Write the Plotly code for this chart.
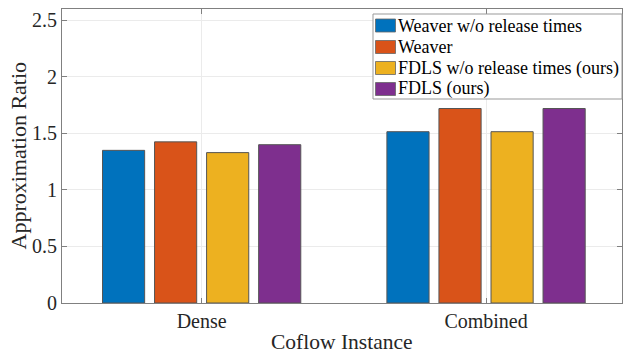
import plotly.graph_objects as go

categories = ["Dense", "Combined"]
series_names = ["Weaver w/o release times", "Weaver", "FDLS w/o release times (ours)", "FDLS (ours)"]
values = {
    "Weaver w/o release times": [1.35, 1.515],
    "Weaver": [1.425, 1.72],
    "FDLS w/o release times (ours)": [1.33, 1.515],
    "FDLS (ours)": [1.40, 1.72],
}
colors = ["#0072BD", "#D95319", "#EDB120", "#7E2F8E"]
y_ticks = [0, 0.5, 1, 1.5, 2, 2.5]
y_tick_labels = ["0", "0.5", "1", "1.5", "2", "2.5"]

ff = "Liberation Serif"
txt = "#262626"

W, H = 624, 356
ML, MR, MT, MB = 62, 2, 9, 53
PW, PH = W - ML - MR, H - MT - MB


def px(x):
    return (x - ML) / PW


def py(y):
    return (H - MB - y) / PH


fig = go.Figure()
for name, col in zip(series_names, colors):
    fig.add_trace(go.Bar(
        x=[1, 2], y=values[name], name=name, showlegend=False,
        marker=dict(color=col, line=dict(color="#555555", width=1)),
    ))

# manual legend (layout decoration)
shapes = [dict(type="rect", xref="paper", yref="paper",
               x0=px(373), x1=px(622), y0=py(99), y1=py(14),
               fillcolor="white", line=dict(color="#999999", width=1), layer="above")]
annotations = []
row_y = [25.5, 47, 68, 89]
for name, col, ry in zip(series_names, colors, row_y):
    shapes.append(dict(type="rect", xref="paper", yref="paper",
                       x0=px(375.5), x1=px(395.5), y0=py(ry + 6.5), y1=py(ry - 6.5),
                       fillcolor=col, line=dict(color="#666666", width=0.8), layer="above"))
    annotations.append(dict(text=name, xref="paper", yref="paper", x=px(395.5), y=py(ry),
                            xanchor="left", yanchor="middle", showarrow=False,
                            font=dict(family=ff, size=18, color="#000000")))

annotations += [
    dict(text="Coflow Instance", xref="paper", yref="paper", x=0.5, y=0,
         xanchor="center", yanchor="middle", yshift=-39, showarrow=False,
         font=dict(family=ff, size=21.5, color=txt)),
    dict(text="Approximation Ratio", xref="paper", yref="paper", x=0, y=0.5,
         xanchor="center", yanchor="middle", xshift=-44.5, textangle=-90, showarrow=False,
         font=dict(family=ff, size=22, color=txt)),
]

fig.update_layout(
    width=W, height=H,
    margin=dict(l=ML, r=MR, t=MT, b=MB, autoexpand=False),
    paper_bgcolor="white", plot_bgcolor="white",
    barmode="group", bargap=0.268, bargroupgap=0.19,
    font=dict(family=ff, color=txt, size=20),
    showlegend=False,
    shapes=shapes,
    annotations=annotations,
)
fig.update_xaxes(
    range=[0.509, 2.478],
    tickvals=[1, 2], ticktext=categories,
    ticks="inside", ticklen=5, tickcolor="#808080",
    showline=True, linecolor="#808080", linewidth=1, mirror="ticks",
    showgrid=True, gridcolor="#ebebeb", gridwidth=1,
    tickfont=dict(family=ff, size=20, color=txt),
    automargin=False, zeroline=False,
)
fig.update_yaxes(
    range=[0, 2.6],
    tickvals=y_ticks, ticktext=y_tick_labels,
    ticks="inside", ticklen=5, tickcolor="#808080",
    showline=True, linecolor="#808080", linewidth=1, mirror="ticks",
    showgrid=True, gridcolor="#ebebeb", gridwidth=1,
    tickfont=dict(family=ff, size=20, color=txt),
    automargin=False, zeroline=False,
)

fig.write_html("out.html", config={"displayModeBar": False},
               post_script="document.body.style.margin='0';")
